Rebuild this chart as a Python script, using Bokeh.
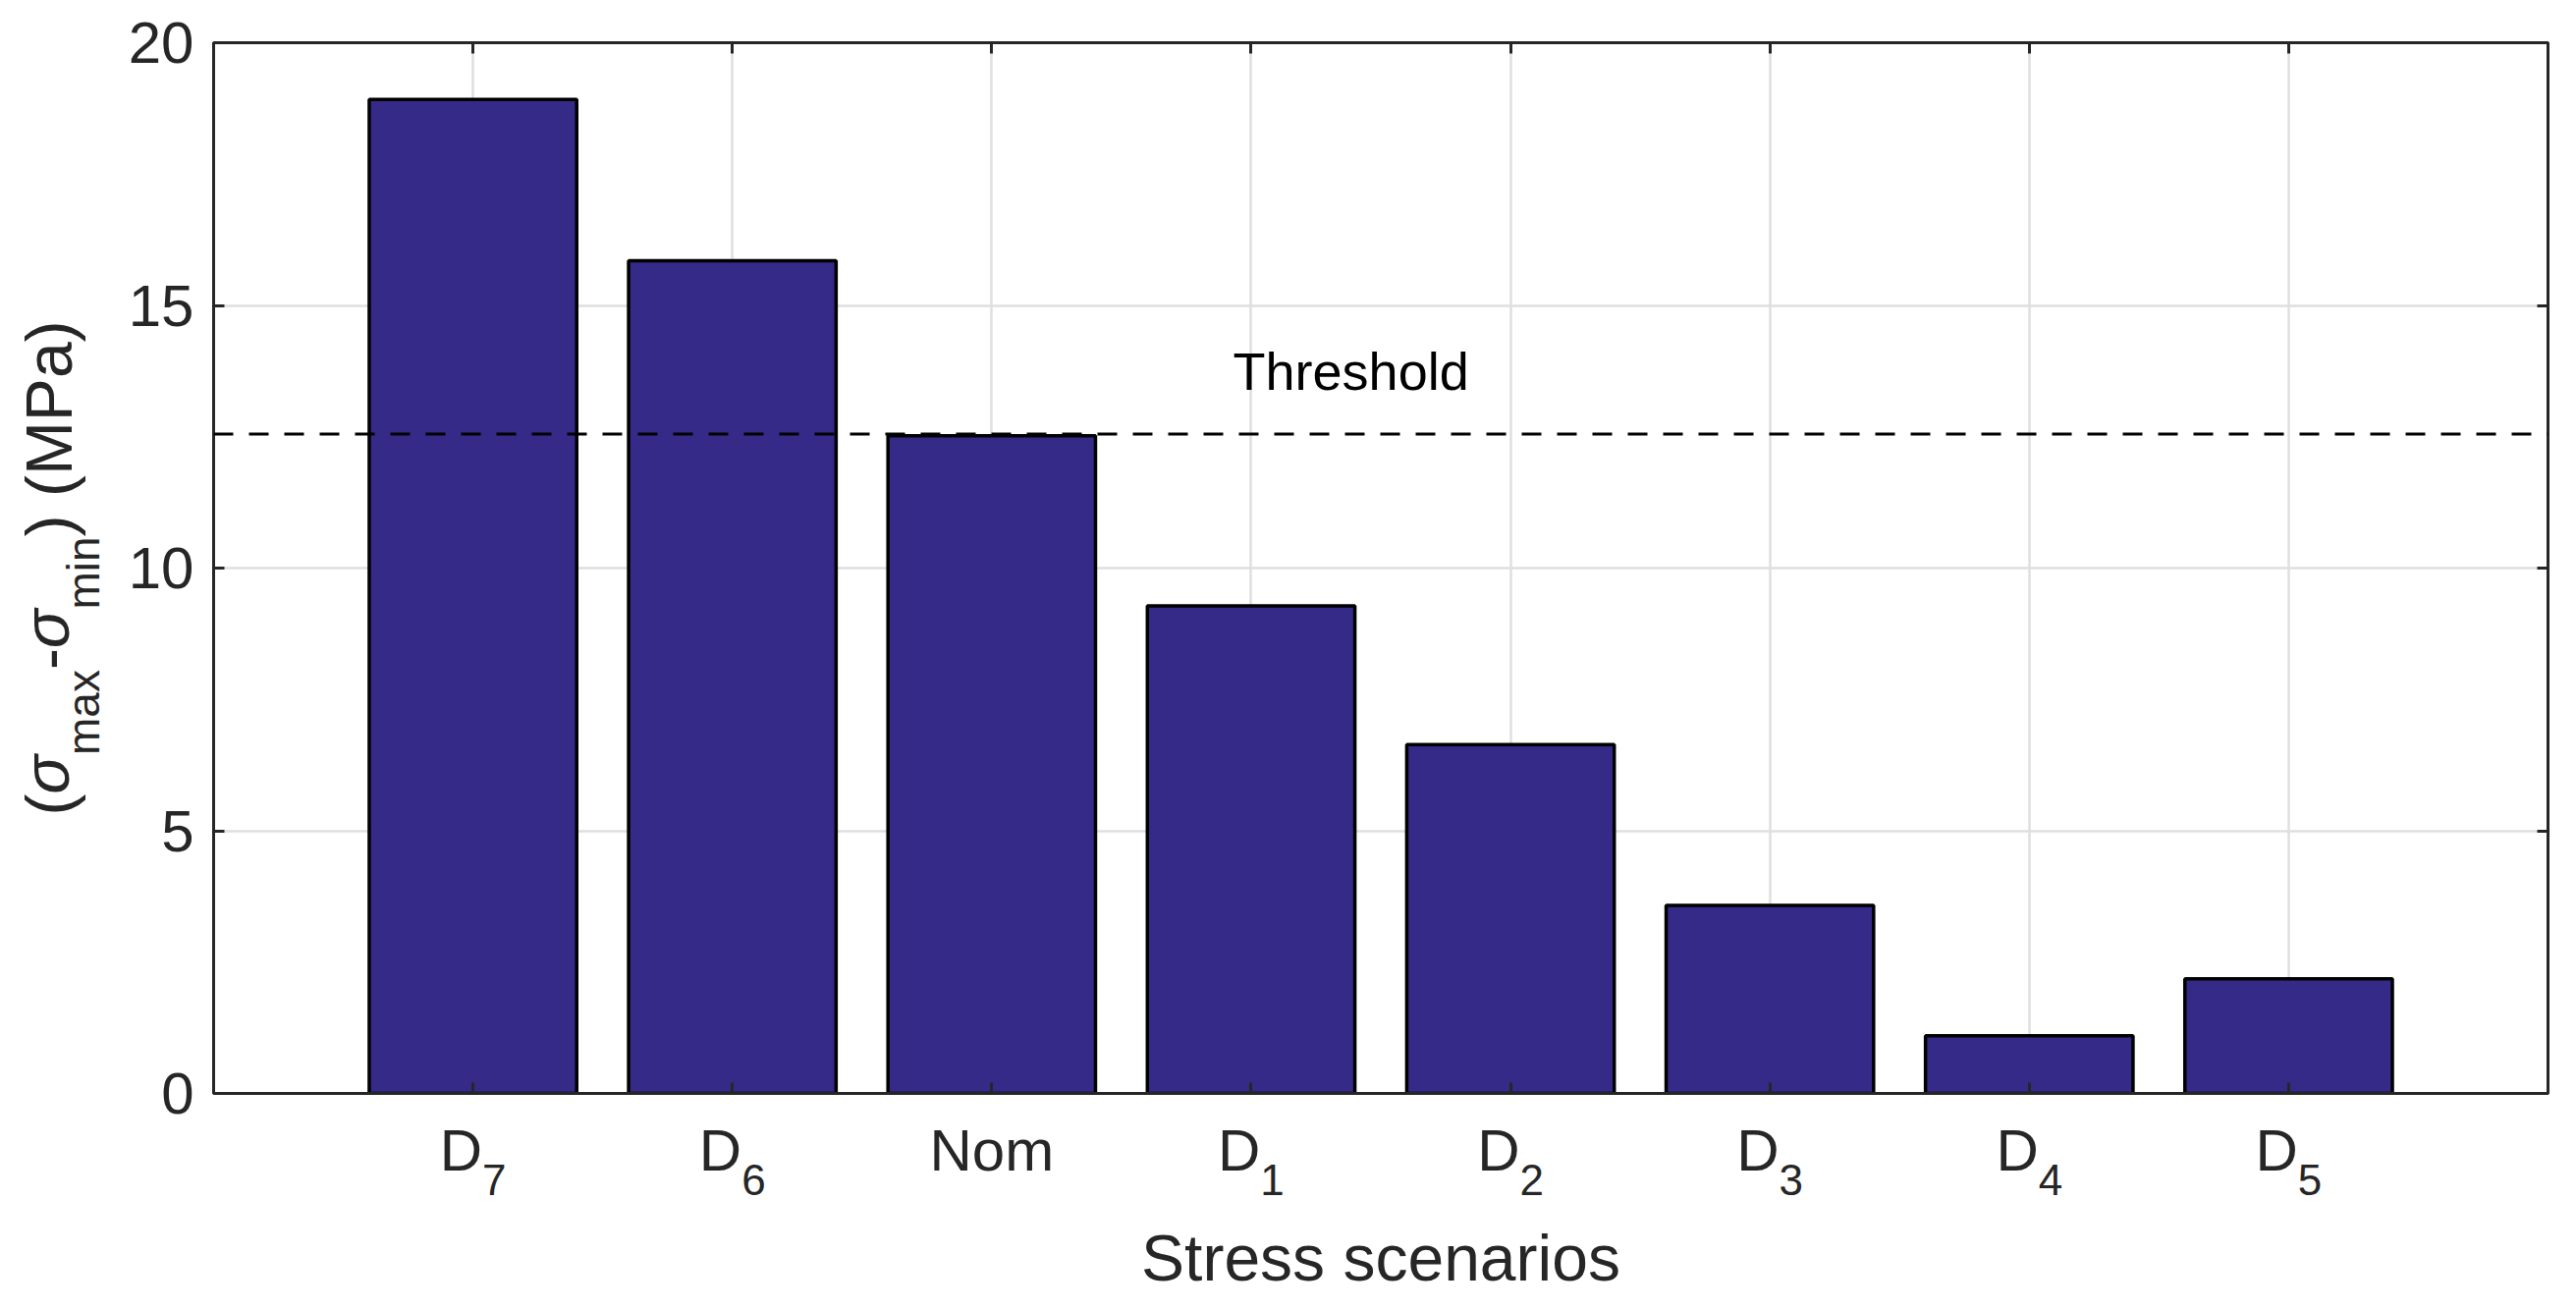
from bokeh.plotting import figure
from bokeh.models import (Range1d, FixedTicker, LinearAxis, Span, Label, Grid,
                          CustomJSTickFormatter)
from bokeh.embed import file_html
from bokeh.resources import INLINE

# ---------------- data ----------------
categories = ["D", "D", "Nom", "D", "D", "D", "D", "D"]
subscripts = ["7", "6", "", "1", "2", "3", "4", "5"]
stress_range = [18.92, 15.85, 12.52, 9.28, 6.64, 3.58, 1.10, 2.18]
threshold = 12.55
y_ticks = [0, 5, 10, 15, 20]
threshold_label = "Threshold"
x_title = "Stress scenarios"
# y title "(σmax-σmin) (MPa)" split into runs: (text, kind)
y_title_runs = [("(", "main"), ("σ", "greek"), ("max", "sub"), ("-", "main"),
                ("σ", "greek"), ("min", "sub"), (") (MPa)", "main")]

# ---------------- style ----------------
FONT = "Liberation Sans"
AX_COLOR = "#262626"
BAR_COLOR = "#352a87"
GRID_COLOR = "#dfdfdf"
W, H = 2623, 1333
ML, MR, MT, MB = 217, 29, 43, 220
FW, FH = W - ML - MR, H - MT - MB
XMIN, XMAX, YMIN, YMAX = 0, len(categories) + 1, 0, 20
PX_X = FW / (XMAX - XMIN)
PX_Y = FH / (YMAX - YMIN)
TICK_FS, SUB_FS = 60, 44
MAIN_FS, YSUB_FS = 66, 46
# approximate advance widths (em) used to lay the y title runs out
ADV = {"(": 0.333, "σ": 0.6, "max": 1.889, "-": 0.333, "min": 1.611,
       ") (MPa)": 3.333}

p = figure(width=W, height=H, output_backend="svg", toolbar_location=None,
           x_range=Range1d(XMIN, XMAX), y_range=Range1d(YMIN, YMAX),
           x_axis_type=None, y_axis_type=None,
           min_border_left=ML, min_border_right=MR,
           min_border_top=MT, min_border_bottom=MB)
p.background_fill_color = "white"
p.border_fill_color = "white"
p.outline_line_color = AX_COLOR
p.outline_line_width = 3
p.outline_line_alpha = 1.0

xs = list(range(1, len(categories) + 1))
xticker = FixedTicker(ticks=xs)
yticker = FixedTicker(ticks=y_ticks)


def tick_axis(ticker, show_labels, standoff):
    ax = LinearAxis(ticker=ticker)
    ax.axis_line_color = AX_COLOR
    ax.axis_line_width = 3
    ax.major_tick_line_color = AX_COLOR
    ax.major_tick_line_width = 3
    ax.major_tick_in = 11
    ax.major_tick_out = 0
    ax.minor_tick_line_color = None
    ax.major_label_text_font = FONT
    ax.major_label_text_color = AX_COLOR
    ax.major_label_standoff = standoff
    if show_labels:
        ax.major_label_text_font_size = f"{TICK_FS}px"
    else:
        ax.formatter = CustomJSTickFormatter(code="return '';")
        ax.major_label_text_font_size = "1px"
    return ax


def text_axis(ticks, names, size, standoff, orientation="horizontal", style="normal"):
    ax = LinearAxis(ticker=FixedTicker(ticks=ticks),
                    formatter=CustomJSTickFormatter(args=dict(names=names),
                                                    code="return names[index];"))
    ax.axis_line_color = None
    ax.major_tick_line_color = None
    ax.minor_tick_line_color = None
    ax.major_tick_in = 0
    ax.major_tick_out = 0
    ax.major_label_text_font = FONT
    ax.major_label_text_font_style = style
    ax.major_label_text_color = AX_COLOR
    ax.major_label_text_font_size = f"{size}px"
    ax.major_label_standoff = standoff
    ax.major_label_orientation = orientation
    return ax


# ---- left: numbers, subscripts, main title text, italic sigma ----
p.add_layout(tick_axis(yticker, True, 20), "left")

widths = [ADV[t] * (YSUB_FS if k == "sub" else MAIN_FS) for t, k in y_title_runs]
pos = FH / 2 - sum(widths) / 2
groups = {"main": ([], []), "greek": ([], []), "sub": ([], [])}
for (t, k), w in zip(y_title_runs, widths):
    groups[k][0].append((pos + w / 2) / PX_Y)
    groups[k][1].append(t)
    pos += w

MAIN_H = 74  # height of a 66px label line
p.add_layout(text_axis(*groups["sub"], YSUB_FS, 16, "vertical"), "left")
p.add_layout(text_axis(*groups["main"], MAIN_FS, -31, "vertical"), "left")
p.add_layout(text_axis(*groups["greek"], MAIN_FS, -MAIN_H, "vertical", "italic"), "left")

# ---- bottom: ticks, then letters, then subscript digits + title ----
p.add_layout(tick_axis(xticker, False, 0), "below")
D_ADV = 0.722 * TICK_FS
SUB_ADV = 0.556 * SUB_FS
shift_d = (-(D_ADV + SUB_ADV) / 2 + D_ADV / 2) / PX_X
shift_s = (-(D_ADV + SUB_ADV) / 2 + D_ADV + SUB_ADV / 2) / PX_X
letter_ticks = [x + (shift_d if s else 0.0) for x, s in zip(xs, subscripts)]
digit_ticks = [x + shift_s for x, s in zip(xs, subscripts) if s]
digit_names = [s for s in subscripts if s]
p.add_layout(text_axis(letter_ticks, categories, TICK_FS, 24), "below")
dax = text_axis(digit_ticks, digit_names, SUB_FS, -22)
dax.axis_label = x_title
dax.axis_label_text_font = FONT
dax.axis_label_text_font_size = f"{MAIN_FS}px"
dax.axis_label_text_font_style = "normal"
dax.axis_label_text_color = AX_COLOR
dax.axis_label_standoff = 24
p.add_layout(dax, "below")

# ---- mirrored ticks ----
p.add_layout(tick_axis(xticker, False, 0), "above")
p.add_layout(tick_axis(yticker, False, 0), "right")

p.add_layout(Grid(dimension=0, ticker=xticker, grid_line_color=GRID_COLOR, grid_line_width=2.5))
p.add_layout(Grid(dimension=1, ticker=yticker, grid_line_color=GRID_COLOR, grid_line_width=2.5))

p.vbar(x=xs, top=stress_range, width=0.8, fill_color=BAR_COLOR,
       line_color="black", line_width=3.5)

p.add_layout(Span(location=threshold, dimension="width", line_color="black",
                  line_width=3, line_dash="20 16"))

p.add_layout(Label(x=4.385, y=13.75, text=threshold_label, text_font=FONT,
                   text_font_size="54px", text_color="black",
                   text_align="center", text_baseline="alphabetic"))

open("out.html", "w").write(file_html(p, INLINE))
